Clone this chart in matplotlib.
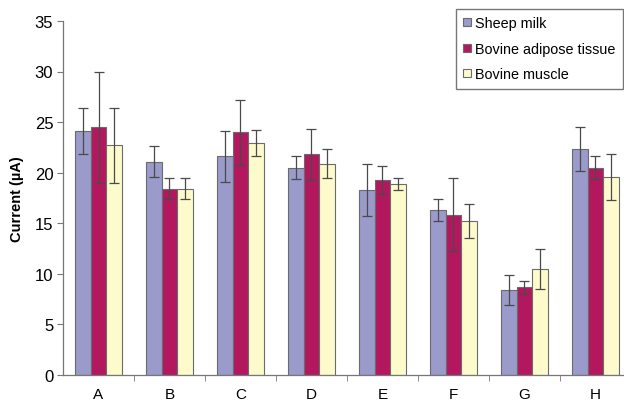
import numpy as np
import matplotlib
matplotlib.use("Agg")
import matplotlib.pyplot as plt

plt.rcParams["font.family"] = ["Liberation Sans", "DejaVu Sans"]

samples = ["A", "B", "C", "D", "E", "F", "G", "H"]
sheep_milk = [24.1, 21.1, 21.6, 20.5, 18.3, 16.3, 8.4, 22.35]
sheep_milk_err = [2.3, 1.5, 2.5, 1.1, 2.6, 1.1, 1.5, 2.15]
adipose = [24.5, 18.4, 24.0, 21.8, 19.3, 15.85, 8.65, 20.5]
adipose_err = [5.5, 1.05, 3.2, 2.5, 1.4, 3.6, 0.6, 1.15]
muscle = [22.7, 18.4, 22.9, 20.9, 18.9, 15.2, 10.5, 19.55]
muscle_err = [3.7, 1.05, 1.3, 1.4, 0.6, 1.7, 2.0, 2.25]

series = [
    ("Sheep milk", sheep_milk, sheep_milk_err, "#9a9acb"),
    ("Bovine adipose tissue", adipose, adipose_err, "#b3185f"),
    ("Bovine muscle", muscle, muscle_err, "#fdfbcc"),
]

fig = plt.figure(figsize=(6.24, 4.06), dpi=100)
ax = fig.add_axes([0.101, 0.074, 0.91, 0.872])

x = np.arange(len(samples))
w = 0.22
for i, (name, vals, errs, col) in enumerate(series):
    ax.bar(x + (i - 1) * w, vals, w, color=col, edgecolor="#6b6b6b",
           linewidth=0.8, label=name, zorder=2)
    ax.errorbar(x + (i - 1) * w, vals, yerr=errs, fmt="none",
                ecolor="#4a4a4a", elinewidth=0.9, capsize=3.5,
                capthick=0.9, zorder=3)

ax.set_xlim(-0.5, len(samples) - 0.5)
ax.set_ylim(0, 35)
ax.set_yticks(range(0, 36, 5))
ax.set_xticks(x)
ax.set_xticklabels(samples)
ax.set_xticks(np.arange(0.5, len(samples) - 0.5, 1), minor=True)
ax.tick_params(axis="x", which="major", length=0, pad=9, labelsize=11)
ax.tick_params(axis="x", which="minor", length=4, color="#777777")
ax.tick_params(axis="y", length=4, color="#777777", labelsize=12, pad=3)

for s in ["top", "right"]:
    ax.spines[s].set_visible(False)
for s in ["left", "bottom"]:
    ax.spines[s].set_color("#777777")
    ax.spines[s].set_linewidth(0.9)

ax.set_ylabel("Current (µA)", fontsize=10.5, fontweight="bold", labelpad=8)

fig.legend(loc="upper left", bbox_to_anchor=(0.731, 0.975), fontsize=10.4,
           frameon=True, fancybox=False, edgecolor="#555555",
           handlelength=0.5, handleheight=0.5, handletextpad=0.3,
           borderpad=0.5, labelspacing=0.8, borderaxespad=0)

fig.savefig("out.png", dpi=100)
